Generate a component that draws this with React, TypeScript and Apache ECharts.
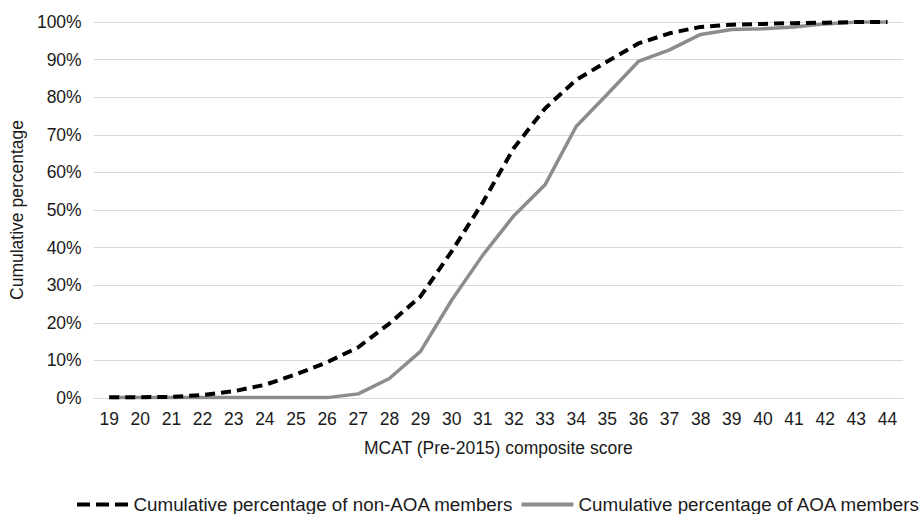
import React, { useEffect, useRef } from "react";
import * as echarts from "echarts";

const categories = ["19","20","21","22","23","24","25","26","27","28","29","30","31","32","33","34","35","36","37","38","39","40","41","42","43","44"];
const nonAoaValues = [0.2,0.2,0.3,0.8,1.8,3.5,6.3,9.5,13.5,19.8,27,39,52,66.5,77,84.6,89.5,94.3,97,98.7,99.3,99.5,99.7,99.8,100,100];
const aoaValues = [0.1,0.1,0.1,0.1,0.1,0.1,0.1,0.1,1.1,5.2,12.4,26,38,48.5,56.7,72.2,80.8,89.5,92.6,96.7,98,98.2,98.7,99.5,100,100];
const seriesNames = ["Cumulative percentage of non-AOA members", "Cumulative percentage of AOA members"];
const xAxisName = "MCAT (Pre-2015) composite score";
const yAxisName = "Cumulative percentage";

const FONT = "'Liberation Sans', Arial, sans-serif";
const DASH_ICON = "path://M0,0H13V4H0Z M19,0H32V4H19Z M38,0H51V4H38Z";
const SOLID_ICON = "path://M0,0H55V4H0Z";

export default function App() {
  const ref = useRef<HTMLDivElement>(null);
  useEffect(() => {
    if (!ref.current) return;
    const chart = echarts.init(ref.current, null, { renderer: "svg" });
    chart.setOption({
      animation: false,
      backgroundColor: "#ffffff",
      textStyle: { fontFamily: FONT },
      grid: { left: 92, right: 20, top: 22, bottom: 116, containLabel: false },
      legend: {
        left: 77,
        top: 495,
        padding: 0,
        itemWidth: 52,
        itemHeight: 4,
        itemGap: 8,
        textStyle: { fontSize: 18.8, color: "#1a1a1a", fontFamily: FONT },
        data: [
          { name: seriesNames[0], icon: DASH_ICON },
          { name: seriesNames[1], icon: SOLID_ICON },
        ],
      },
      xAxis: {
        type: "category",
        data: categories,
        boundaryGap: true,
        name: xAxisName,
        nameLocation: "middle",
        nameGap: 41,
        nameTextStyle: { fontSize: 17.5, color: "#1a1a1a", fontFamily: FONT },
        axisTick: { show: false },
        axisLine: { lineStyle: { color: "#d9d9d9", width: 1 } },
        axisLabel: { fontSize: 17.5, color: "#1a1a1a", margin: 12, interval: 0, fontFamily: FONT },
        splitLine: { show: false },
      },
      yAxis: {
        type: "value",
        min: 0,
        max: 100,
        interval: 10,
        name: yAxisName,
        nameLocation: "middle",
        nameGap: 64,
        nameRotate: 90,
        nameTextStyle: { fontSize: 17.5, color: "#1a1a1a", fontFamily: FONT },
        axisLine: { show: false },
        axisTick: { show: false },
        axisLabel: { formatter: "{value}%", fontSize: 17.5, color: "#1a1a1a", margin: 12, fontFamily: FONT },
        splitLine: { lineStyle: { color: "#d9d9d9", width: 1 } },
      },
      series: [
        {
          name: seriesNames[0],
          type: "line",
          data: nonAoaValues,
          symbol: "none",
          z: 3,
          lineStyle: { color: "#000000", width: 4, type: [10, 6], cap: "butt" },
          itemStyle: { color: "#000000" },
        },
        {
          name: seriesNames[1],
          type: "line",
          data: aoaValues,
          symbol: "none",
          z: 2,
          lineStyle: { color: "#8c8c8c", width: 3.5, type: "solid" },
          itemStyle: { color: "#8c8c8c" },
        },
      ],
    });
    return () => chart.dispose();
  }, []);
  return <div ref={ref} style={{ position: "fixed", left: 0, top: 0, width: 923, height: 514 }} />;
}
